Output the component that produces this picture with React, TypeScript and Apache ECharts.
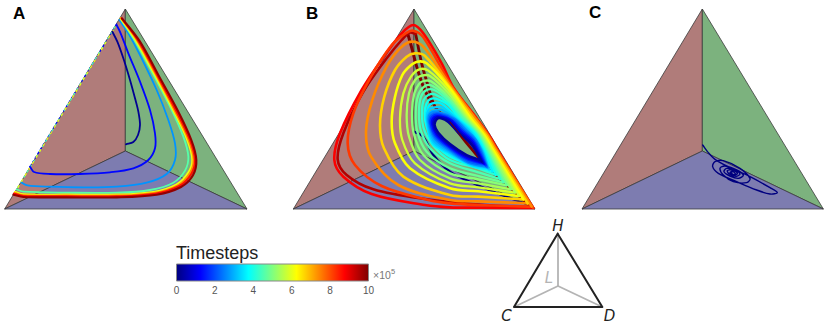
import React, { useEffect, useRef } from "react";
import * as echarts from "echarts";

type P = [number, number];

const jetStops: [number, string][] = [
  [0, "#00007f"], [0.125, "#0000ff"], [0.375, "#00ffff"], [0.625, "#ffff00"], [0.875, "#ff0000"], [1, "#7f0000"],
];
const colorbarTicks = [0, 2, 4, 6, 8, 10];

const faceBrown = "#b07c7a";
const faceGreen = "#7cb27e";
const faceBlue = "#7d7cb0";

// Triangle corners per panel: apex, left, right, centre
const cornersA: P[] = [[376, 27], [14, 627], [741, 627], [376, 453]];
const cornersB: P[] = [[387, 27], [25, 627], [750, 627], [387, 453]];
const cornersC: P[] = [[397, 27], [36, 627], [760, 627], [397, 453]];

// Panel A trajectories
const aTimes = [0.2, 1.3, 2.7, 4.6, 6.1, 7.4, 8.6, 9.8];
const aPaths: P[][] = [
  [[378, 433], [400, 426], [414, 405], [420, 375], [415, 335], [405, 295], [390, 240], [370, 175], [352, 125], [337, 95]],
  [[90, 500], [102, 516], [150, 522], [240, 522], [330, 517], [400, 505], [445, 480], [465, 445], [465, 400], [450, 330], [420, 245], [385, 160], [362, 100], [350, 75]],
  [[65, 548], [82, 556], [150, 560], [250, 562], [350, 560], [440, 548], [500, 522], [525, 480], [525, 430], [505, 360], [470, 270], [420, 165], [385, 100], [358, 60]],
  [[50, 568], [70, 575], [200, 578], [350, 578], [450, 570], [520, 548], [555, 512], [565, 470], [550, 410], [510, 320], [450, 205], [400, 115], [362, 58]],
  [[45, 576], [70, 583], [200, 584], [350, 584], [460, 576], [530, 553], [566, 516], [577, 478], [562, 420], [522, 335], [462, 220], [408, 122], [362, 55]],
  [[44, 579], [70, 586], [200, 587], [350, 587], [462, 579], [534, 556], [570, 519], [581, 478], [566, 420], [526, 335], [466, 220], [412, 122], [364, 54]],
  [[42, 581], [70, 588], [200, 589], [350, 589], [466, 581], [538, 558], [574, 522], [585, 480], [570, 420], [530, 335], [470, 222], [416, 124], [365, 55]],
  [[40, 584], [70, 591], [200, 592], [350, 592], [470, 584], [543, 561], [579, 526], [589, 480], [574, 420], [535, 335], [475, 225], [420, 125], [366, 55]],
];
const aEdgeTimes = [1.3, 4.6, 6.1];
const aEdgePaths: P[][] = [
  [[350, 72], [88, 503]],
  [[345, 80], [52, 565]],
  [[340, 90], [46, 575]],
];

// Panel B trajectories, one loop per row, starting from the lower right tip
const bTimes = [
  0.3, 0.7, 1.2, 1.7, 2.2, 2.6, 3.0, 3.3, 3.6, 3.9, 4.2, 4.5, 4.8, 5.1, 5.4, 5.8, 6.2, 6.7, 7.4, 8.2, 8.8, 9.5,
];
const bLoops: P[][] = [
  [[585, 480], [545, 465], [495, 432], [460, 398], [449, 375], [455, 358], [468, 355], [490, 366], [520, 398], [556, 430], [572, 452]],
  [[590, 485], [545, 469], [495, 436], [457, 401], [445, 373], [451, 355], [466, 352], [492, 361], [524, 396], [560, 428], [574, 450]],
  [[594, 489], [545, 473], [495, 440], [455, 404], [441, 371], [447, 352], [464, 349], [496, 360], [528, 394], [562, 424], [577, 450]],
  [[598, 492], [545, 477], [495, 444], [453, 408], [437, 369], [443, 349], [463, 345], [500, 360], [532, 392], [564, 420], [581, 450]],
  [[602, 496], [550, 484], [495, 448], [451, 412], [434, 366], [440, 345], [462, 341], [504, 358], [536, 390], [566, 418], [585, 450]],
  [[605, 500], [550, 488], [495, 452], [449, 416], [431, 364], [437, 340], [460, 336], [508, 356], [540, 388], [570, 416], [588, 450]],
  [[607, 502], [555, 490], [495, 456], [446, 421], [428, 362], [434, 338], [452, 330], [470, 330], [512, 358], [555, 400], [590, 450]],
  [[609, 504], [560, 495], [495, 459], [444, 426], [426, 360], [431, 330], [448, 322], [470, 322], [516, 358], [560, 400], [592, 450]],
  [[612, 508], [565, 500], [495, 463], [442, 430], [424, 356], [429, 322], [442, 310], [470, 311], [520, 358], [565, 400], [595, 450]],
  [[622, 515], [580, 500], [495, 470], [450, 430], [425, 380], [419, 340], [424, 312], [435, 298], [452, 296], [490, 315], [524, 358], [570, 400], [598, 450]],
  [[632, 525], [580, 505], [495, 480], [445, 437], [416, 385], [411, 335], [416, 300], [430, 285], [450, 283], [488, 308], [528, 356], [574, 402], [601, 450]],
  [[645, 537], [580, 517], [495, 490], [435, 445], [407, 390], [402, 335], [408, 290], [425, 270], [448, 270], [490, 302], [532, 354], [578, 404], [604, 450]],
  [[655, 547], [580, 528], [495, 505], [425, 455], [397, 395], [392, 335], [400, 285], [420, 258], [443, 258], [490, 295], [537, 354], [582, 405], [608, 450]],
  [[665, 556], [580, 538], [495, 520], [415, 465], [386, 400], [381, 335], [388, 280], [402, 252], [415, 243], [438, 244], [490, 290], [542, 356], [586, 406], [612, 450]],
  [[678, 568], [580, 550], [495, 535], [405, 480], [372, 410], [365, 345], [372, 280], [390, 240], [410, 227], [435, 228], [490, 280], [547, 356], [590, 406], [616, 450]],
  [[690, 578], [580, 562], [495, 550], [390, 490], [352, 420], [345, 355], [355, 280], [378, 230], [403, 208], [430, 212], [490, 270], [552, 356], [594, 406], [620, 450]],
  [[702, 588], [580, 574], [495, 565], [375, 505], [330, 430], [320, 365], [330, 290], [352, 225], [375, 198], [397, 185], [425, 190], [490, 260], [558, 356], [598, 406], [624, 450]],
  [[715, 598], [580, 590], [495, 585], [355, 530], [297, 445], [285, 375], [298, 290], [330, 210], [365, 170], [390, 160], [420, 168], [495, 262], [565, 356], [603, 406], [629, 450]],
  [[728, 610], [580, 604], [495, 600], [340, 555], [258, 470], [243, 395], [262, 300], [305, 200], [345, 145], [380, 125], [415, 140], [500, 262], [572, 356], [608, 406], [634, 450]],
  [[740, 620], [580, 615], [495, 610], [430, 600], [290, 558], [210, 495], [188, 430], [205, 340], [255, 235], [320, 135], [362, 100], [385, 92], [415, 112], [503, 262], [574, 356], [610, 406], [636, 450]],
  [[745, 624], [580, 623], [495, 622], [420, 615], [260, 582], [175, 530], [148, 480], [165, 400], [230, 270], [300, 165], [350, 100], [385, 75], [415, 100], [470, 190], [505, 262], [576, 356], [612, 406], [638, 450]],
  [[742, 622], [600, 615], [420, 597], [265, 568], [185, 525], [158, 478], [175, 400], [235, 275], [305, 175], [350, 120], [375, 98], [392, 102]],
];
const bFirstPath: P[] = [[388, 395], [415, 410], [445, 465], [495, 515], [565, 550], [650, 585], [725, 612]];
const bLastLeft: P[] = [[368, 100], [382, 150], [395, 200], [415, 260], [440, 312]];
const bLastRight: P[] = [[392, 102], [410, 190], [430, 260], [450, 320], [495, 366], [545, 429], [610, 505], [670, 560], [735, 618]];
const bLastThin: P[] = [[495, 366], [520, 397], [545, 429]];

// Panel C trajectory
const cPath: P[] = [
  [398, 435], [415, 458], [435, 478], [470, 498], [540, 530], [600, 563], [622, 578], [600, 582], [560, 570], [500, 545], [445, 520], [428, 500], [435, 485],
  [460, 482], [510, 505], [540, 535], [530, 548], [490, 545], [460, 525], [450, 505], [465, 498], [500, 510], [520, 525], [505, 535], [480, 528], [462, 515],
  [470, 505], [495, 510], [510, 522], [498, 529], [478, 522], [472, 512], [487, 510], [502, 520], [492, 526], [480, 518], [487, 514], [496, 521], [490, 524], [482, 517], [490, 515],
];

// Key triangle
const keyOuter: P[] = [[203, 56], [72, 276], [337, 276], [203, 56]];
const keySpokes: P[][] = [[[204, 56], [204, 213]], [[204, 213], [72, 276]], [[204, 213], [337, 276]]];

function mix(a: string, b: string, f: number) {
  const pa = [1, 3, 5].map((i) => parseInt(a.slice(i, i + 2), 16));
  const pb = [1, 3, 5].map((i) => parseInt(b.slice(i, i + 2), 16));
  const c = pa.map((v, i) => Math.round(v + (pb[i] - v) * f));
  return `rgb(${c[0]},${c[1]},${c[2]})`;
}
function jet(t: number) {
  const u = t / 10;
  for (let i = 0; i < jetStops.length - 1; i++) {
    if (u <= jetStops[i + 1][0]) {
      return mix(jetStops[i][1], jetStops[i + 1][1], (u - jetStops[i][0]) / (jetStops[i + 1][0] - jetStops[i][0]));
    }
  }
  return jetStops[jetStops.length - 1][1];
}

const grids = [
  { left: 4.67, top: 9, width: 242.33, height: 200 },
  { left: 293.33, top: 9, width: 241.67, height: 200 },
  { left: 582, top: 9, width: 241.33, height: 200 },
  { left: 176.5, top: 264, width: 192, height: 17 },
  { left: 490, top: 215, width: 140, height: 112 },
];
const hiddenAxis = { show: false, type: "value" as const };

function facesSeries(g: number, c: P[]) {
  const faces: [P[], string][] = [
    [[c[0], c[1], c[3]], faceBrown],
    [[c[0], c[3], c[2]], faceGreen],
    [[c[1], c[3], c[2]], faceBlue],
  ];
  return faces.map(([pts, fill]) => ({
    type: "custom", xAxisIndex: g, yAxisIndex: g, silent: true, clip: false, data: [pts[0]], z: 1,
    renderItem: (_p: any, api: any) => ({
      type: "polygon",
      shape: { points: pts.map((p) => api.coord(p)) },
      style: { fill, stroke: "#3a3a3a", lineWidth: 0.8 },
    }),
  }));
}
function pathSeries(g: number, data: P[], color: string, width: number, z = 3, dash?: any) {
  return {
    type: "line", xAxisIndex: g, yAxisIndex: g, data, showSymbol: false, symbol: "none", silent: true, clip: false, z,
    lineStyle: { color, width, cap: "round", join: "round", type: dash || "solid" },
  };
}
// A smooth curve through the data points, after they pass through the axes
function curveSeries(g: number, data: P[], color: string, width: number, z = 3) {
  return {
    type: "custom", xAxisIndex: g, yAxisIndex: g, silent: true, clip: false, z, data,
    renderItem: (params: any, api: any) => {
      if (params.dataIndex !== 0) return null;
      const pts: number[][] = data.map((p) => api.coord(p));
      let d = `M${pts[0][0]} ${pts[0][1]}`;
      const dist = (a: number[], b: number[]) => Math.hypot(a[0] - b[0], a[1] - b[1]) || 1e-6;
      const tangent = (i: number) => {
        const a = pts[Math.max(0, i - 1)];
        const b = pts[Math.min(pts.length - 1, i + 1)];
        const len = dist(pts[Math.max(0, i - 1)], pts[i]) + dist(pts[i], pts[Math.min(pts.length - 1, i + 1)]);
        return [(b[0] - a[0]) / len, (b[1] - a[1]) / len];
      };
      for (let i = 0; i < pts.length - 1; i++) {
        const s = dist(pts[i], pts[i + 1]) / 3;
        const t0 = tangent(i);
        const t1 = tangent(i + 1);
        d += `C${pts[i][0] + t0[0] * s} ${pts[i][1] + t0[1] * s} ${pts[i + 1][0] - t1[0] * s} ${pts[i + 1][1] - t1[1] * s} ${pts[i + 1][0]} ${pts[i + 1][1]}`;
      }
      return {
        type: "path",
        shape: { pathData: d },
        style: { fill: "none", stroke: color, lineWidth: width, lineCap: "round", lineJoin: "round" },
      };
    },
  };
}

export default function App() {
  const ref = useRef<HTMLDivElement>(null);
  useEffect(() => {
    const chart = echarts.init(ref.current!, undefined, { renderer: "svg" });
    const series: any[] = [
      ...facesSeries(0, cornersA),
      ...facesSeries(1, cornersB),
      ...facesSeries(2, cornersC),
    ];
    aEdgePaths.forEach((p, i) => series.push(pathSeries(0, p, jet(aEdgeTimes[i]), 1.2, 2, [2, 3 + i])));
    aPaths.forEach((p, i) => series.push(curveSeries(0, p, jet(aTimes[i]), i > 3 ? 2.1 : 1.8, 3 + i * 0.01)));
    series.push(curveSeries(1, bFirstPath, jet(0), 2.2, 2));
    series.push(curveSeries(1, bLastLeft, jet(10), 3, 2));
    series.push(curveSeries(1, bLastRight, jet(10), 2.8, 2));
    // outer loops lie beneath the inner ones
    const n = bLoops.length;
    bLoops.forEach((loop, i) => {
      const next = bLoops[i + 1];
      series.push(curveSeries(1, next ? [...loop, next[0]] : loop, jet(bTimes[i]), i > 15 ? 2.6 : 2.3, 3 + (n - i) * 0.01));
    });
    series.push(pathSeries(1, bLastThin, jet(10), 1, 4));
    series.push(curveSeries(2, cPath, "#00007f", 1.4));
    // colour bar
    series.push({
      type: "custom", xAxisIndex: 3, yAxisIndex: 3, silent: true, clip: false, data: [[0, 0]], z: 1,
      renderItem: (_p: any, api: any) => {
        const a = api.coord([0, 1]);
        const b = api.coord([10, 0]);
        return {
          type: "rect",
          shape: { x: a[0], y: a[1], width: b[0] - a[0], height: b[1] - a[1] },
          style: {
            fill: new echarts.graphic.LinearGradient(0, 0, 1, 0, jetStops.map(([offset, color]) => ({ offset, color }))),
            stroke: "#888888", lineWidth: 1,
          },
        };
      },
    });
    // key
    keySpokes.forEach((p) => series.push(pathSeries(4, p, "#b4b4b4", 1.8, 2)));
    series.push(pathSeries(4, keyOuter, "#222222", 2, 3));

    const label = (text: string, x: number, y: number) => ({
      type: "text", x, y,
      style: { text, fill: "#000", fontFamily: "Liberation Sans", fontWeight: "bold", fontSize: 17, textVerticalAlign: "middle", textAlign: "left" },
    });
    const keyLabel = (text: string, x: number, y: number, fill = "#222") => ({
      type: "text", x, y,
      style: { text, fill, fontFamily: "DejaVu Sans", fontStyle: "italic", fontSize: 15, textVerticalAlign: "middle", textAlign: "center" },
    });

    chart.setOption({
      animation: false,
      backgroundColor: "#ffffff",
      grid: grids.map((g) => ({ ...g, containLabel: false })),
      xAxis: [
        { ...hiddenAxis, gridIndex: 0, min: 14, max: 741 },
        { ...hiddenAxis, gridIndex: 1, min: 25, max: 750 },
        { ...hiddenAxis, gridIndex: 2, min: 36, max: 760 },
        {
          type: "value", gridIndex: 3, min: 0, max: 10, interval: 2,
          axisLine: { show: false },
          splitLine: { show: false },
          axisTick: { show: true, inside: true, length: 2, lineStyle: { color: "#666", width: 0.6 } },
          axisLabel: { color: "#555", fontSize: 10, fontFamily: "Liberation Sans", margin: 4, formatter: (v: number) => (colorbarTicks.includes(v) ? String(v) : "") },
        },
        { ...hiddenAxis, gridIndex: 4, min: 0, max: 420 },
      ],
      yAxis: [
        { ...hiddenAxis, gridIndex: 0, min: 27, max: 627, inverse: true },
        { ...hiddenAxis, gridIndex: 1, min: 27, max: 627, inverse: true },
        { ...hiddenAxis, gridIndex: 2, min: 27, max: 627, inverse: true },
        { ...hiddenAxis, gridIndex: 3, min: 0, max: 1 },
        { ...hiddenAxis, gridIndex: 4, min: 0, max: 336, inverse: true },
      ],
      series,
      graphic: [
        label("A", 13, 13.5),
        label("B", 306, 13),
        label("C", 589, 12.5),
        {
          type: "text", x: 176, y: 253,
          style: { text: "Timesteps", fill: "#222", fontFamily: "Liberation Sans", fontSize: 18, textVerticalAlign: "middle" },
        },
        { type: "text", x: 373, y: 275, style: { text: "×10", fill: "#777", fontFamily: "Liberation Sans", fontSize: 10.5, textVerticalAlign: "middle" } },
        { type: "text", x: 391, y: 271, style: { text: "5", fill: "#777", fontFamily: "Liberation Sans", fontSize: 7.5, textVerticalAlign: "middle" } },
        keyLabel("H", 558, 225.5),
        keyLabel("L", 549, 277.5, "#b4b4b4"),
        keyLabel("C", 506.5, 316),
        keyLabel("D", 609.5, 316),
      ],
    });
    return () => chart.dispose();
  }, []);
  return <div ref={ref} style={{ position: "absolute", left: 0, top: 0, width: 830, height: 327 }} />;
}
